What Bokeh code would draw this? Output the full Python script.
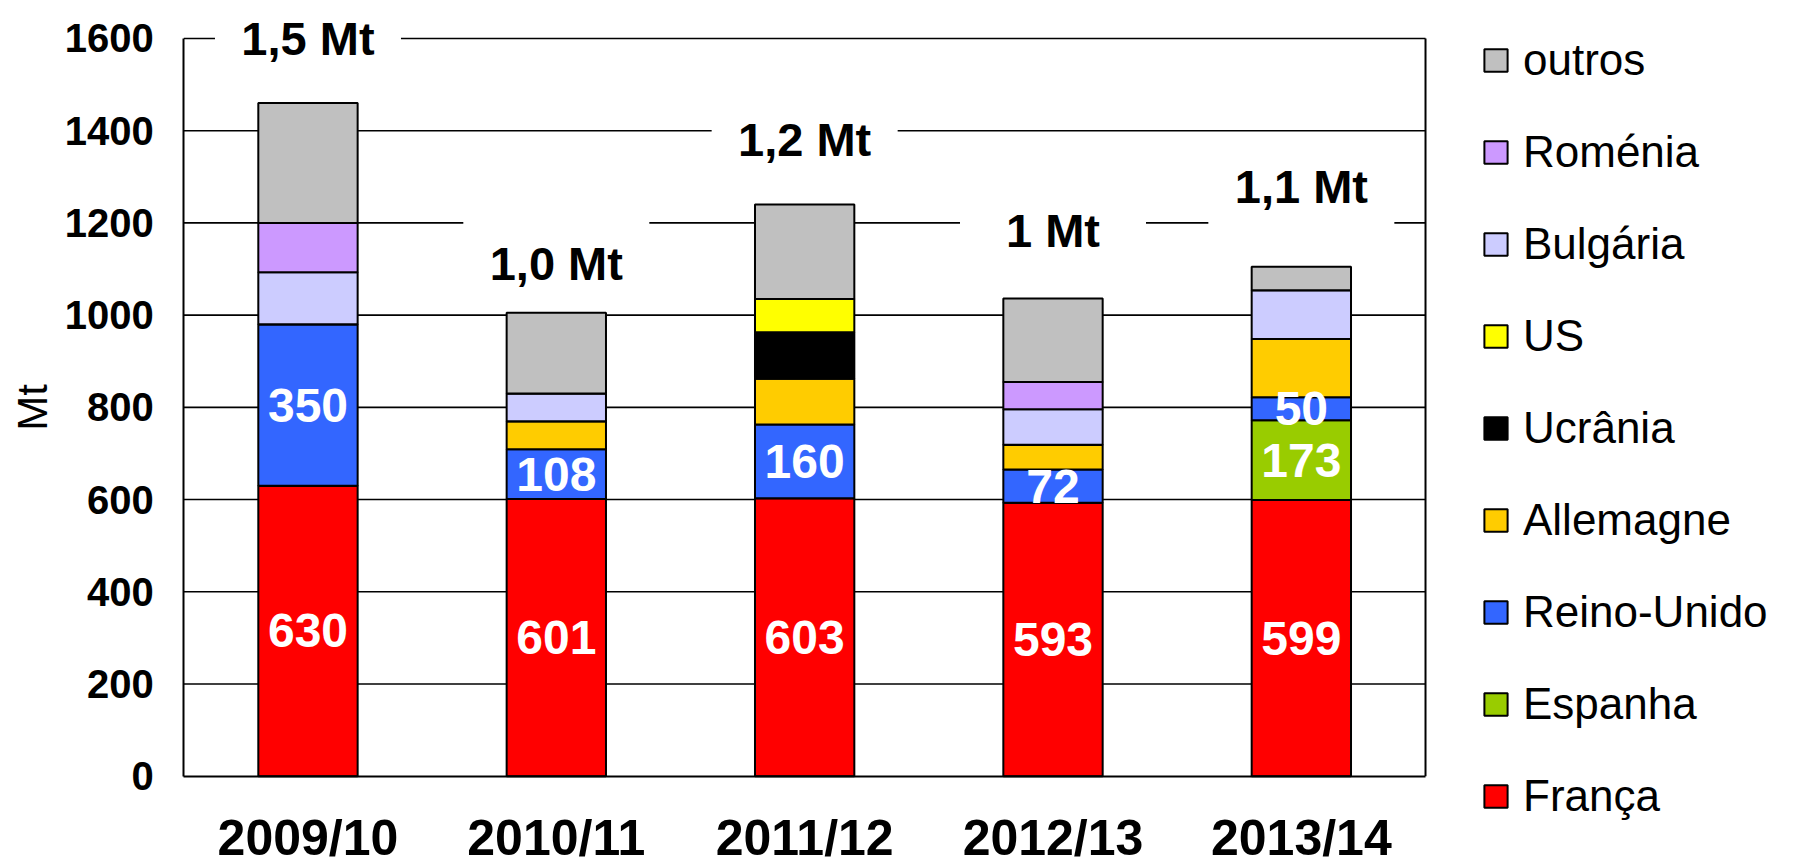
import math
from bokeh.plotting import figure
from bokeh.models import (Legend, LegendItem, FixedTicker, Range1d)
from bokeh.embed import file_html
from bokeh.resources import INLINE
from bokeh.core.properties import value

# ---------------- data ----------------
seasons = ["2009/10", "2010/11", "2011/12", "2012/13", "2013/14"]

franca      = [630, 601, 603, 593, 599]
espanha     = [0,   0,   0,   0,   173]
reino_unido = [350, 108, 160, 72,  50]
allemagne   = [0,   61,  99,  54,  126]
ucrania     = [0,   0,   101, 0,   0]
us          = [0,   0,   72,  0,   0]
bulgaria    = [113, 60,  0,   77,  106]
romenia     = [107, 0,   0,   59,  0]
outros      = [260, 175, 205, 181, 51]

series_names = ["França", "Espanha", "Reino-Unido", "Allemagne", "Ucrânia",
                "US", "Bulgária", "Roménia", "outros"]
series_keys = ["franca", "espanha", "reino_unido", "allemagne", "ucrania",
               "us", "bulgaria", "romenia", "outros"]
series_colors = ["#FF0000", "#99CC00", "#3366FF", "#FFCC00", "#000000",
                 "#FFFF00", "#CCCCFF", "#CC99FF", "#C0C0C0"]

total_labels = ["1,5 Mt", "1,0 Mt", "1,2 Mt", "1 Mt", "1,1 Mt"]
total_label_y = [1600, 1112, 1380, 1183, 1279]

y_ticks = [0, 200, 400, 600, 800, 1000, 1200, 1400, 1600]
y_title = "Mt"

FONT = "Liberation Sans"

n = len(seasons)
xc = [i + 0.5 for i in range(n)]          # category centres
y_top = y_ticks[-1]

# ---------------- figure (frame covers the whole canvas) ----------------
p = figure(x_range=Range1d(-0.7381, 6.5019), y_range=Range1d(-198.0, 1682.4),
           width=1798, height=867, output_backend="svg", toolbar_location=None,
           min_border=0, outline_line_color=None,
           background_fill_color="white", border_fill_color="white")
p.grid.visible = False

# horizontal grid lines (limited to the chart box) and right border
p.segment(x0=[0] * (len(y_ticks) - 1), x1=[n] * (len(y_ticks) - 1),
          y0=y_ticks[1:], y1=y_ticks[1:], line_color="black", line_width=1.6)
p.segment(x0=[n], x1=[n], y0=[0], y1=[y_top], line_color="black", line_width=2)

data = dict(x=xc, franca=franca, espanha=espanha,
            reino_unido=reino_unido, allemagne=allemagne, ucrania=ucrania,
            us=us, bulgaria=bulgaria, romenia=romenia, outros=outros)

renderers = p.vbar_stack(series_keys, x="x", width=0.4, source=data,
                         fill_color=series_colors, line_color="black",
                         line_width=2)

# value labels inside bars
lab_x, lab_y, lab_t = [], [], []
for i in range(n):
    lab_x.append(xc[i]); lab_y.append(franca[i] / 2); lab_t.append(str(franca[i]))
    if espanha[i] > 0:
        lab_x.append(xc[i]); lab_y.append(franca[i] + espanha[i] / 2)
        lab_t.append(str(espanha[i]))
    lab_x.append(xc[i])
    lab_y.append(franca[i] + espanha[i] + reino_unido[i] / 2)
    lab_t.append(str(reino_unido[i]))
p.text(x=lab_x, y=lab_y, text=lab_t, text_color="white",
       text_font=value(FONT), text_font_style="bold", text_font_size="48px",
       text_align="center", text_baseline="middle")

# total labels with white boxes
p.rect(x=xc, y=total_label_y, width=186, height=90,
       width_units="screen", height_units="screen",
       fill_color="white", line_color=None)
p.text(x=xc, y=total_label_y, text=total_labels, text_color="black",
       text_font=value(FONT), text_font_style="bold", text_font_size="47px",
       text_align="center", text_baseline="middle")

# y-axis title
p.text(x=[-0.6105], y=[y_top / 2], text=[y_title], angle=math.pi / 2,
       text_color="black", text_font=value(FONT), text_font_size="42px",
       text_align="center", text_baseline="middle")

# axes drawn at the data origin
p.yaxis.fixed_location = 0
p.yaxis.ticker = FixedTicker(ticks=y_ticks)
p.yaxis.bounds = (0, y_top)
p.yaxis.major_tick_in = 0
p.yaxis.major_tick_out = 0
p.yaxis.minor_tick_line_color = None
p.yaxis.axis_line_width = 2
p.yaxis.axis_line_color = "black"
p.yaxis.major_label_standoff = 30
p.yaxis.major_label_text_font = FONT
p.yaxis.major_label_text_font_style = "bold"
p.yaxis.major_label_text_font_size = "40px"
p.yaxis.major_label_text_color = "black"

p.xaxis.fixed_location = 0
p.xaxis.ticker = FixedTicker(ticks=xc)
p.xaxis.bounds = (0, n)
p.xaxis.major_label_overrides = {xc[i]: seasons[i] for i in range(n)}
p.xaxis.major_tick_in = 0
p.xaxis.major_tick_out = 0
p.xaxis.minor_tick_line_color = None
p.xaxis.axis_line_width = 2
p.xaxis.axis_line_color = "black"
p.xaxis.major_label_standoff = 34
p.xaxis.major_label_text_font = FONT
p.xaxis.major_label_text_font_style = "bold"
p.xaxis.major_label_text_font_size = "50px"
p.xaxis.major_label_text_color = "black"

# legend
items = [LegendItem(label=series_names[i], renderers=[renderers[i]])
         for i in reversed(range(len(series_names)))]
legend = Legend(items=items, location=(1481, 46), orientation="vertical",
                glyph_width=29, glyph_height=28, label_standoff=13,
                spacing=42, padding=0, margin=0, border_line_color=None,
                background_fill_alpha=0, label_text_font=FONT,
                label_text_font_size="44px", label_text_color="black")
p.add_layout(legend)

open("out.html", "w").write(file_html(p, INLINE))
